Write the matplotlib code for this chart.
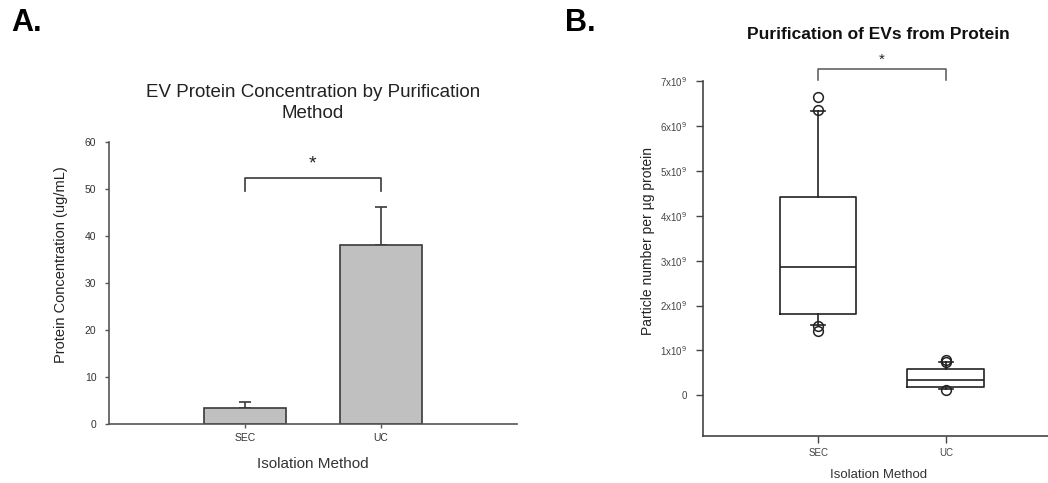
import numpy as np
import matplotlib
matplotlib.use("Agg")
import matplotlib.pyplot as plt

plt.rcParams['font.family'] = ['Liberation Sans', 'DejaVu Sans']

# Panel A data
methods = ['SEC', 'UC']
protein_mean = [3.4, 38.0]
protein_err = [1.4, 8.2]

# Panel B box stats (particles per ug protein)
q1 = [1.81e9, 0.185e9]
med = [2.87e9, 0.334e9]
q3 = [4.41e9, 0.595e9]
whislo = [1.56e9, 0.15e9]
whishi = [6.33e9, 0.74e9]
outliers = [[6.65e9, 6.36e9, 1.55e9, 1.43e9], [0.79e9, 0.75e9, 0.11e9]]
yticks_b = [0, 1e9, 2e9, 3e9, 4e9, 5e9, 6e9, 7e9]
ytick_labels_b = ['0'] + ['%dx10$^9$' % i for i in range(1, 8)]

ink = '#3a3a3a'
fig = plt.figure(figsize=(10.48, 4.83), dpi=100)

# ---- Panel A ----
axA = fig.add_axes([0.104, 0.122, 0.389, 0.584])
xa = np.arange(1, len(methods) + 1)
axA.bar(xa, protein_mean, width=0.6, color='#c0c0c0', edgecolor=ink, linewidth=1.2, zorder=2)
axA.errorbar(xa, protein_mean, yerr=[[0, 0], protein_err], fmt='none',
             ecolor=ink, elinewidth=1.2, capsize=4, capthick=1.2, zorder=1)
axA.set_xlim(0.0, 3.0)
axA.set_ylim(0, 60)
axA.set_yticks(range(0, 61, 10))
axA.set_xticks(xa)
axA.set_xticklabels(methods)
for s in ['top', 'right']:
    axA.spines[s].set_visible(False)
for s in ['left', 'bottom']:
    axA.spines[s].set_color('#555555')
    axA.spines[s].set_linewidth(1.2)
axA.tick_params(axis='both', length=3, width=1, color='#555555', labelsize=7.5,
                labelcolor='#333333')
axA.tick_params(axis='y', pad=6)
axA.set_ylabel('Protein Concentration (ug/mL)', fontsize=10.5, color='#222222')
axA.yaxis.set_label_coords(-0.10, 0.565)
axA.set_xlabel('Isolation Method', fontsize=11, color='#333333', labelpad=10)
axA.set_title('EV Protein Concentration by Purification\nMethod', fontsize=13.5,
              color='#222222', pad=17, linespacing=1.35)
# significance bracket
axA.plot([1, 1, 2, 2], [49.5, 52.4, 52.4, 49.5], color=ink, lw=1.2)
axA.text(1.5, 53.5, '*', ha='center', va='bottom', fontsize=14, color='#222222')

# ---- Panel B ----
axB = fig.add_axes([0.671, 0.097, 0.335, 0.735])
stats = []
for i in range(len(methods)):
    stats.append(dict(med=med[i], q1=q1[i], q3=q3[i], whislo=whislo[i],
                      whishi=whishi[i], fliers=outliers[i], label=methods[i]))
axB.bxp(stats, positions=[1, 2], widths=0.6, showfliers=True,
        boxprops=dict(color='#222222', linewidth=1.2),
        medianprops=dict(color='#222222', linewidth=1.2),
        whiskerprops=dict(color='#222222', linewidth=1.2),
        capprops=dict(color='#222222', linewidth=1.2),
        capwidths=0.11,
        flierprops=dict(marker='o', markerfacecolor='none', markeredgecolor='#222222',
                        markersize=7, markeredgewidth=1.1))
axB.set_xlim(0.1, 2.85)
axB.set_ylim(-0.91e9, 7.0e9)
axB.set_yticks(yticks_b)
axB.set_yticklabels(ytick_labels_b)
for s in ['top', 'right']:
    axB.spines[s].set_visible(False)
for s in ['left', 'bottom']:
    axB.spines[s].set_color('#444444')
    axB.spines[s].set_linewidth(1.2)
axB.tick_params(axis='both', length=5, width=1, color='#444444', labelsize=7,
                labelcolor='#444444')
axB.tick_params(axis='y', pad=7)
axB.set_ylabel('Particle number per \u00b5g protein', fontsize=10, color='#222222')
axB.yaxis.set_label_coords(-0.138, 0.55)
axB.set_xlabel('Isolation Method', fontsize=9.5, color='#333333', labelpad=8)
axB.set_title('Purification of EVs from Protein', fontsize=12.5, fontweight='bold',
              color='#111111', pad=30)
axB.plot([1, 1, 2, 2], [7.02e9, 7.27e9, 7.27e9, 7.02e9], color='#555555', lw=1.1,
         clip_on=False)
axB.text(1.5, 7.33e9, '*', ha='center', va='bottom', fontsize=11, color='#222222')

# panel letters
fig.text(0.011, 0.952, 'A.', fontsize=22, fontweight='bold', va='center', ha='left')
fig.text(0.539, 0.952, 'B.', fontsize=22, fontweight='bold', va='center', ha='left')

fig.savefig('out.png', dpi=100)
